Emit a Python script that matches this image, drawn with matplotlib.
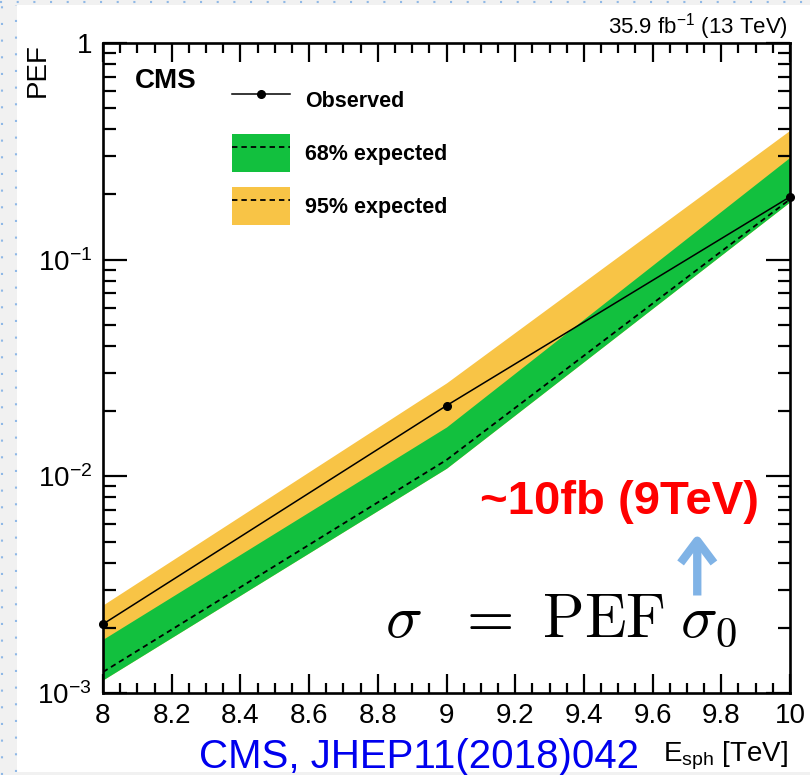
import math
import matplotlib
matplotlib.use("Agg")
import matplotlib.pyplot as plt
from matplotlib.lines import Line2D
from matplotlib.patches import Patch, Rectangle
from matplotlib.ticker import MultipleLocator, LogLocator, FuncFormatter, NullFormatter

plt.rcParams['font.family'] = ['Liberation Sans', 'DejaVu Sans']
plt.rcParams['mathtext.fontset'] = 'custom'
plt.rcParams['mathtext.rm'] = 'Liberation Sans'
plt.rcParams['mathtext.it'] = 'Liberation Sans:italic'
plt.rcParams['mathtext.bf'] = 'Liberation Sans:bold'

# Datos (CMS, E_sph en TeV)
energy = [8.0, 9.0, 10.0]
observed = [2.08e-3, 2.12e-2, 0.195]
expected = [1.25e-3, 1.19e-2, 0.19]
band68_lo = [1.15e-3, 1.09e-2, 0.185]
band68_hi = [1.77e-3, 1.69e-2, 0.297]
band95_lo = [1.15e-3, 1.09e-2, 0.185]
band95_hi = [2.55e-3, 2.70e-2, 0.396]

legend_labels = ["Observed", "68% expected", "95% expected"]

green = '#12c03e'
yellow = '#f8c446'
W, H = 810, 775

fig = plt.figure(figsize=(W / 100, H / 100), dpi=100)
fig.patch.set_facecolor('#f1f1f1')
fig.add_artist(Rectangle((17 / W, 1 - 772 / H), 1, (772 - 5) / H,
                         transform=fig.transFigure, fc='white', ec='none', zorder=-10))
dots = dict(color='#8fb8e6', lw=1.5, linestyle=(0, (1, 7)), transform=fig.transFigure)
fig.add_artist(Line2D([2 / W, 2 / W], [0, 1], **dots))
fig.add_artist(Line2D([16 / W, 16 / W], [1 - 772 / H, 1 - 5 / H], **dots))
fig.add_artist(Line2D([0, 1], [1 - 1.5 / H, 1 - 1.5 / H], **dots))

ax = fig.add_axes([103 / W, 1 - 693 / H, (790 - 103) / W, (693 - 43) / H])

dash = (0, (3, 2.2))
ax.fill_between(energy, band95_lo, band95_hi, color=yellow, lw=0, zorder=1)
ax.fill_between(energy, band68_lo, band68_hi, color=green, lw=0, zorder=2)
ax.plot(energy, expected, color='k', lw=1.3, linestyle=dash, zorder=3)
ax.plot(energy, observed, color='k', lw=1.1, marker='o', ms=5.5, zorder=4, clip_on=False)

ax.set_yscale('log')
ax.set_xlim(8, 10)
ax.set_ylim(1e-3, 1)

ax.xaxis.set_major_locator(MultipleLocator(0.2))
ax.xaxis.set_minor_locator(MultipleLocator(0.05))
ax.xaxis.set_major_formatter(FuncFormatter(lambda v, p: f"{v:g}"))
ax.yaxis.set_major_locator(LogLocator(base=10, numticks=10))
ax.yaxis.set_minor_locator(LogLocator(base=10, subs=range(2, 10), numticks=20))
ax.yaxis.set_minor_formatter(NullFormatter())
ax.yaxis.set_major_formatter(FuncFormatter(
    lambda v, p: '1' if abs(v - 1) < 1e-9 else r'$10^{%d}$' % round(math.log10(v))))

for s in ax.spines.values():
    s.set_linewidth(1.9)
ax.tick_params(which='both', direction='in', top=True, right=True, width=1.6, labelsize=20)
ax.tick_params(axis='x', which='major', length=14, pad=7)
ax.tick_params(axis='x', which='minor', length=7)
ax.tick_params(axis='y', which='major', length=17, pad=8)
ax.tick_params(axis='y', which='minor', length=9)

handles = [
    Line2D([], [], color='k', lw=1.1, marker='o', ms=5.5),
    (Patch(fc=green, ec='none'), Line2D([], [], color='k', lw=1.3, linestyle=dash)),
    (Patch(fc=yellow, ec='none'), Line2D([], [], color='k', lw=1.3, linestyle=dash)),
]
ax.legend(handles, legend_labels, loc='upper left', bbox_to_anchor=(0.188, 0.941),
          frameon=False, prop={'weight': 'bold', 'size': 15.5}, numpoints=1,
          handlelength=2.7, handleheight=2.3, handletextpad=0.7, labelspacing=0.72,
          borderpad=0, borderaxespad=0)

# Textos
fig.text(135 / W, 1 - 81 / H, 'CMS', fontsize=20, fontweight='bold', ha='left', va='center')
fig.text(788 / W, 1 - 33 / H, r'35.9 fb$^{-1}$ (13 TeV)', fontsize=16, ha='right', va='baseline')
fig.text(38 / W, 1 - 70 / H, 'PEF', fontsize=20, rotation=90, ha='center', va='center')
fig.text(788 / W, 1 - 761 / H, r'E$_{\mathrm{sph}}$ [TeV]', fontsize=20, ha='right', va='baseline')
fig.text(419 / W, 1 - 768 / H, 'CMS, JHEP11(2018)042', fontsize=29, color='#0000ee',
         ha='center', va='baseline')
fig.text(480 / W, 1 - 514 / H, '~10fb (9TeV)', fontsize=34, fontweight='bold', color='#ff0000',
         ha='left', va='baseline')
fig.text(385 / W, 1 - 637 / H, r'$\sigma\ \ =\ \mathrm{PEF}\;\sigma_0$', fontsize=44,
         math_fontfamily='cm', ha='left', va='baseline')

ax.annotate('', xy=(0.865, 0.245), xytext=(0.865, 0.15), xycoords='axes fraction',
            arrowprops=dict(arrowstyle='->,head_length=0.8,head_width=0.6', lw=6,
                            color='#80b3e6', mutation_scale=20, shrinkA=0, shrinkB=0,
                            capstyle='butt'))

fig.savefig('out.png', dpi=100)
